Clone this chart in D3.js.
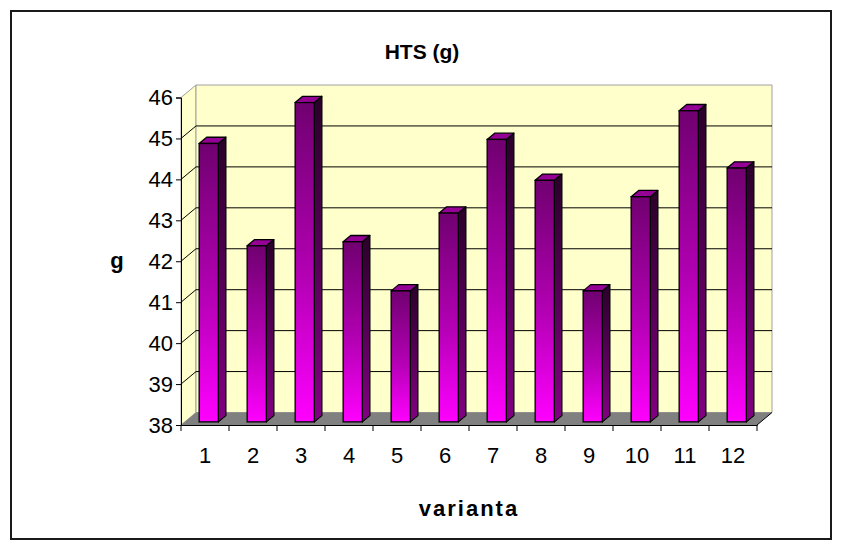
<!DOCTYPE html>
<html>
<head>
<meta charset="utf-8">
<script src="https://cdn.jsdelivr.net/npm/d3@7"></script>
<style>
  html, body { margin: 0; padding: 0; background: #ffffff; }
  svg { display: block; }
  text { font-family: Arial, "Liberation Sans", sans-serif; fill: #000; }
</style>
</head>
<body>
<svg id="chart" width="842" height="550"></svg>
<script>
// HTS per variant (g)
const categories = ["1", "2", "3", "4", "5", "6", "7", "8", "9", "10", "11", "12"];
const values = [44.8, 42.3, 45.8, 42.4, 41.2, 43.1, 44.9, 43.9, 41.2, 43.5, 45.6, 44.2];
const yTicks = [38, 39, 40, 41, 42, 43, 44, 45, 46];
const titleText = "HTS (g)";
const yTitle = "g";
const xTitle = "varianta";

const svg = d3.select("#chart");

// front plane of the 3-D box
const x = d3.scaleBand().domain(categories).range([181, 757]).padding(0);
const y = d3.scaleLinear().domain([38, 46]).range([425, 97.5]);

// depth of the box (front edge -> back wall)
const DX = 15, DY = -12.5;
// bar sits between these depth fractions
const depthStart = 0.25, depthEnd = 0.75;
const barFrac = 0.4;

const defs = svg.append("defs");
const gFront = defs.append("linearGradient").attr("id", "front").attr("x1", 0).attr("y1", 0).attr("x2", 0).attr("y2", 1);
gFront.append("stop").attr("offset", "0%").attr("stop-color", "#700070");
gFront.append("stop").attr("offset", "55%").attr("stop-color", "#b400b4");
gFront.append("stop").attr("offset", "100%").attr("stop-color", "#ff00ff");
const gSide = defs.append("linearGradient").attr("id", "side").attr("x1", 0).attr("y1", 0).attr("x2", 0).attr("y2", 1);
gSide.append("stop").attr("offset", "0%").attr("stop-color", "#2a002a");
gSide.append("stop").attr("offset", "100%").attr("stop-color", "#820082");

// outer frame
svg.append("rect")
  .attr("x", 11).attr("y", 11).attr("width", 820).attr("height", 528)
  .attr("fill", "#ffffff").attr("stroke", "#1a1a1a").attr("stroke-width", 2);

const [x0, x1] = x.range();
const yMin = y(38), yMax = y(46);
const pt = (px, py) => px + "," + py;

// left wall
svg.append("polygon")
  .attr("points", [pt(x0, yMin), pt(x0, yMax), pt(x0 + DX, yMax + DY), pt(x0 + DX, yMin + DY)].join(" "))
  .attr("fill", "#ffffcc").attr("stroke", "#a0a0a0").attr("stroke-width", 1);

// back wall
svg.append("polygon")
  .attr("points", [pt(x0 + DX, yMin + DY), pt(x0 + DX, yMax + DY), pt(x1 + DX, yMax + DY), pt(x1 + DX, yMin + DY)].join(" "))
  .attr("fill", "#ffffcc").attr("stroke", "#a0a0a0").attr("stroke-width", 1);

// gridlines on the back wall and the left wall
const inner = yTicks.filter(v => v > 38 && v < 46);
svg.append("g").selectAll("line").data(inner).join("line")
  .attr("x1", x0 + DX).attr("x2", x1 + DX)
  .attr("y1", d => y(d) + DY).attr("y2", d => y(d) + DY)
  .attr("stroke", "#000").attr("stroke-width", 1);
svg.append("g").selectAll("line").data(inner).join("line")
  .attr("x1", x0).attr("x2", x0 + DX)
  .attr("y1", d => y(d)).attr("y2", d => y(d) + DY)
  .attr("stroke", "#000").attr("stroke-width", 1);

// floor
svg.append("polygon")
  .attr("points", [pt(x0, yMin), pt(x1, yMin), pt(x1 + DX, yMin + DY), pt(x0 + DX, yMin + DY)].join(" "))
  .attr("fill", "#808080").attr("stroke", "none");
svg.append("line")
  .attr("x1", x1).attr("y1", yMin).attr("x2", x1 + DX).attr("y2", yMin + DY)
  .attr("stroke", "#000").attr("stroke-width", 1);

// bars
const bw = x.bandwidth() * barFrac;
const sx = DX * depthStart, sy = DY * depthStart;
const ddx = DX * (depthEnd - depthStart), ddy = DY * (depthEnd - depthStart);
const data = categories.map((c, i) => ({ c, v: values[i] }));
const bars = svg.append("g").selectAll("g").data(data).join("g");
bars.each(function (d) {
  const g = d3.select(this);
  const L = x(d.c) + (x.bandwidth() - bw) / 2 + sx;
  const R = L + bw;
  const T = y(d.v) + sy;
  const B = y(38) + sy;
  // right side face
  g.append("polygon")
    .attr("points", [pt(R, B), pt(R, T), pt(R + ddx, T + ddy), pt(R + ddx, B + ddy)].join(" "))
    .attr("fill", "url(#side)").attr("stroke", "#000").attr("stroke-width", 1.3).attr("stroke-linejoin", "round");
  // top face
  g.append("polygon")
    .attr("points", [pt(L, T), pt(R, T), pt(R + ddx, T + ddy), pt(L + ddx, T + ddy)].join(" "))
    .attr("fill", "#950095").attr("stroke", "#000").attr("stroke-width", 1.3).attr("stroke-linejoin", "round");
  // front face
  g.append("rect")
    .attr("x", L).attr("y", T).attr("width", bw).attr("height", B - T)
    .attr("fill", "url(#front)").attr("stroke", "#000").attr("stroke-width", 1.3);
});

// y axis (front edge) with ticks
const yAxis = d3.axisLeft(y).tickValues(yTicks).tickSize(5).tickPadding(3).tickFormat(d3.format("d"));
const gy = svg.append("g").attr("transform", `translate(${x0},0)`).call(yAxis);
gy.select(".domain").attr("stroke", "#000").attr("stroke-width", 1);
gy.selectAll(".tick line").attr("stroke", "#000");
gy.selectAll(".tick text").attr("font-size", 22).attr("font-family", "Arial, 'Liberation Sans', sans-serif").attr("fill", "#000");

// x axis along the front edge of the floor
const xAxis = d3.axisBottom(x).tickSize(0).tickPadding(22);
const gx = svg.append("g").attr("transform", `translate(0,${yMin})`).call(xAxis);
gx.select(".domain").attr("stroke", "#000").attr("stroke-width", 1);
gx.selectAll(".tick text").attr("font-size", 22).attr("font-family", "Arial, 'Liberation Sans', sans-serif").attr("fill", "#000");
// tick marks on category boundaries
gx.append("g").selectAll("line").data(d3.range(categories.length + 1)).join("line")
  .attr("x1", i => x0 + i * x.step()).attr("x2", i => x0 + i * x.step())
  .attr("y1", 0).attr("y2", 6)
  .attr("stroke", "#000");

// titles
svg.append("text").attr("x", 422).attr("y", 59).attr("text-anchor", "middle")
  .attr("font-size", 21).attr("font-weight", "bold").text(titleText);
svg.append("text").attr("x", 117).attr("y", 268).attr("text-anchor", "middle")
  .attr("font-size", 22).attr("font-weight", "bold").text(yTitle);
svg.append("text").attr("x", (x0 + x1) / 2).attr("y", 516).attr("text-anchor", "middle")
  .attr("font-size", 22).attr("font-weight", "bold").attr("letter-spacing", 2).text(xTitle);
</script>
</body>
</html>
